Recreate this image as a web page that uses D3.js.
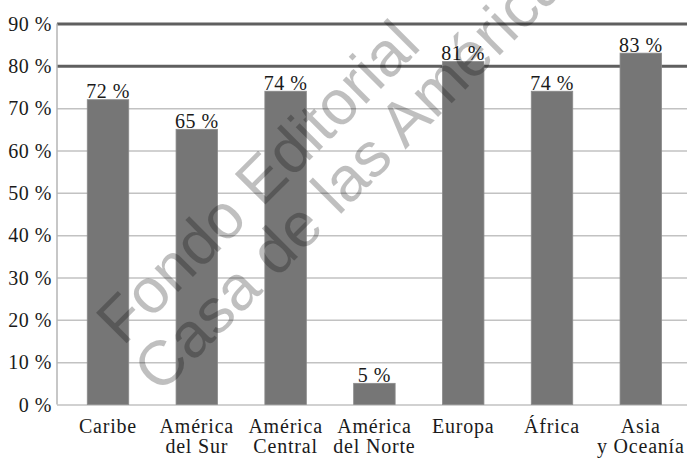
<!DOCTYPE html>
<html><head><meta charset="utf-8">
<script src="https://cdn.jsdelivr.net/npm/d3@7"></script>
<style>
html,body{margin:0;padding:0;background:#fff;}
svg{display:block;}
</style></head>
<body>
<svg id="chart" width="687" height="461"></svg>
<script>
const categories = [["Caribe"],["América","del Sur"],["América","Central"],["América","del Norte"],["Europa"],["África"],["Asia","y Oceanía"]];
const values = [72, 65, 74, 5, 81, 74, 83];
const tickValues = [0,10,20,30,40,50,60,70,80,90];
const tickLabels = ["0 %","10 %","20 %","30 %","40 %","50 %","60 %","70 %","80 %","90 %"];
const watermark = ["Fondo Editorial","Casa de las Américas"];

const svg = d3.select("#chart");
const left = 57, right = 687;
const serif = '"Liberation Serif"';

const x = d3.scaleBand().domain(d3.range(categories.length))
  .range([63.6, 685.2]).paddingInner(0.533).paddingOuter(0.2665);
const y = d3.scaleLinear().domain([0, 90]).range([404.5, 23.5]);

// grid + y axis
const gAxis = svg.append("g").attr("transform", `translate(${left},0)`)
  .call(d3.axisLeft(y).tickValues(tickValues).tickSize(-(right-left)).tickPadding(5)
    .tickFormat((d,i)=>tickLabels[i]));
gAxis.attr("font-family", null).attr("font-size", null);
gAxis.select(".domain").remove();
gAxis.selectAll(".tick line")
  .attr("stroke", d => d >= 80 ? "#5f5f5f" : "#c2c2c2")
  .attr("stroke-width", d => d >= 80 ? 3 : 1.5);
gAxis.selectAll(".tick text")
  .style("font-family", serif).style("font-size", "20px").style("letter-spacing", "0.5px")
  .attr("fill", "#1a1a1a").attr("dy", "0.34em");

svg.append("line").attr("x1", left).attr("x2", left)
  .attr("y1", y(90)).attr("y2", y(0)).attr("stroke", "#b5b5b5").attr("stroke-width", 1.5);

// bars
svg.append("g").selectAll("rect").data(values).join("rect")
  .attr("x", (d,i)=>x(i)).attr("width", x.bandwidth())
  .attr("y", d=>y(d)).attr("height", d=>y(0)-y(d))
  .attr("fill", "#767676").attr("stroke", "#8a8a8a").attr("stroke-width", 0.8);

// value labels
svg.append("g").selectAll("text").data(values).join("text")
  .attr("x", (d,i)=>x(i)+x.bandwidth()/2).attr("y", d=>y(d)-1.5)
  .attr("text-anchor", "middle")
  .style("font-family", serif).style("font-size", "20px").style("letter-spacing", "0.5px")
  .attr("fill", "#1a1a1a")
  .text(d => d + " %");

// category labels
const cat = svg.append("g").selectAll("text").data(categories).join("text")
  .attr("text-anchor", "middle")
  .style("font-family", serif).style("font-size", "20px").style("letter-spacing", "0.8px")
  .attr("fill", "#1a1a1a")
  .attr("transform", (d,i)=>`translate(${x(i)+x.bandwidth()/2},433)`);
cat.selectAll("tspan").data(d=>d).join("tspan")
  .attr("x", 0).attr("y", (d,j)=>j*19.5).text(d=>d);

// watermark
const wm = svg.append("g")
  .style("font-family", '"Liberation Sans"').style("font-size", "63px")
  .attr("fill", "#000").attr("fill-opacity", 0.25);
const wmPos = [[123,347],[160,395]];
wm.selectAll("text").data(watermark).join("text")
  .attr("transform", (d,i)=>`translate(${wmPos[i][0]},${wmPos[i][1]}) rotate(-45)`)
  .text(d=>d);
</script>
</body></html>
